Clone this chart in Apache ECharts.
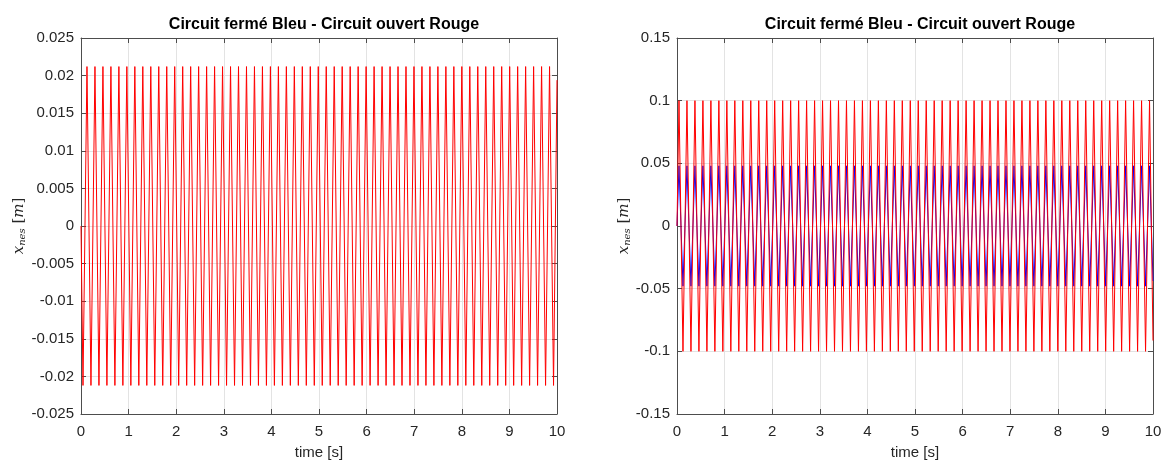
<!DOCTYPE html>
<html>
<head>
<meta charset="utf-8">
<script src="https://cdn.jsdelivr.net/npm/echarts@6/dist/echarts.min.js"></script>
<style>
html,body{margin:0;padding:0;background:#fff;}
#chart{width:1163px;height:462px;}
</style>
</head>
<body>
<div id="chart"></div>
<script>
// Titles and labels
const plotTitle = 'Circuit fermé Bleu - Circuit ouvert Rouge';
const xAxisName = 'time [s]';

const extremaTimes = [0,
  0.0419,0.1257,0.2094,0.2932,0.3770,0.4608,0.5445,0.6283,0.7121,0.7959,
  0.8796,0.9634,1.0472,1.1310,1.2147,1.2985,1.3823,1.4661,1.5499,1.6336,
  1.7174,1.8012,1.8850,1.9687,2.0525,2.1363,2.2201,2.3038,2.3876,2.4714,
  2.5552,2.6389,2.7227,2.8065,2.8903,2.9740,3.0578,3.1416,3.2254,3.3091,
  3.3929,3.4767,3.5605,3.6442,3.7280,3.8118,3.8956,3.9794,4.0631,4.1469,
  4.2307,4.3145,4.3982,4.4820,4.5658,4.6496,4.7333,4.8171,4.9009,4.9847,
  5.0684,5.1522,5.2360,5.3198,5.4035,5.4873,5.5711,5.6549,5.7386,5.8224,
  5.9062,5.9900,6.0737,6.1575,6.2413,6.3251,6.4089,6.4926,6.5764,6.6602,
  6.7440,6.8277,6.9115,6.9953,7.0791,7.1628,7.2466,7.3304,7.4142,7.4979,
  7.5817,7.6655,7.7493,7.8330,7.9168,8.0006,8.0844,8.1681,8.2519,8.3357,
  8.4195,8.5032,8.5870,8.6708,8.7546,8.8383,8.9221,9.0059,9.0897,9.1735,
  9.2572,9.3410,9.4248,9.5086,9.5923,9.6761,9.7599,9.8437,9.9274,
  10];

// Left panel: open circuit (red), x_nes [m]
const leftRed = [0,
  -0.0212,0.0212,-0.0212,0.0212,-0.0212,0.0212,-0.0212,0.0212,-0.0212,0.0212,
  -0.0212,0.0212,-0.0212,0.0212,-0.0212,0.0212,-0.0212,0.0212,-0.0212,0.0212,
  -0.0212,0.0212,-0.0212,0.0212,-0.0212,0.0212,-0.0212,0.0212,-0.0212,0.0212,
  -0.0212,0.0212,-0.0212,0.0212,-0.0212,0.0212,-0.0212,0.0212,-0.0212,0.0212,
  -0.0212,0.0212,-0.0212,0.0212,-0.0212,0.0212,-0.0212,0.0212,-0.0212,0.0212,
  -0.0212,0.0212,-0.0212,0.0212,-0.0212,0.0212,-0.0212,0.0212,-0.0212,0.0212,
  -0.0212,0.0212,-0.0212,0.0212,-0.0212,0.0212,-0.0212,0.0212,-0.0212,0.0212,
  -0.0212,0.0212,-0.0212,0.0212,-0.0212,0.0212,-0.0212,0.0212,-0.0212,0.0212,
  -0.0212,0.0212,-0.0212,0.0212,-0.0212,0.0212,-0.0212,0.0212,-0.0212,0.0212,
  -0.0212,0.0212,-0.0212,0.0212,-0.0212,0.0212,-0.0212,0.0212,-0.0212,0.0212,
  -0.0212,0.0212,-0.0212,0.0212,-0.0212,0.0212,-0.0212,0.0212,-0.0212,0.0212,
  -0.0212,0.0212,-0.0212,0.0212,-0.0212,0.0212,-0.0212,0.0212,-0.0212,
  0.0194];

// Right panel: open circuit (red)
const rightRed = [0,
  0.1,-0.1,0.1,-0.1,0.1,-0.1,0.1,-0.1,0.1,-0.1,
  0.1,-0.1,0.1,-0.1,0.1,-0.1,0.1,-0.1,0.1,-0.1,
  0.1,-0.1,0.1,-0.1,0.1,-0.1,0.1,-0.1,0.1,-0.1,
  0.1,-0.1,0.1,-0.1,0.1,-0.1,0.1,-0.1,0.1,-0.1,
  0.1,-0.1,0.1,-0.1,0.1,-0.1,0.1,-0.1,0.1,-0.1,
  0.1,-0.1,0.1,-0.1,0.1,-0.1,0.1,-0.1,0.1,-0.1,
  0.1,-0.1,0.1,-0.1,0.1,-0.1,0.1,-0.1,0.1,-0.1,
  0.1,-0.1,0.1,-0.1,0.1,-0.1,0.1,-0.1,0.1,-0.1,
  0.1,-0.1,0.1,-0.1,0.1,-0.1,0.1,-0.1,0.1,-0.1,
  0.1,-0.1,0.1,-0.1,0.1,-0.1,0.1,-0.1,0.1,-0.1,
  0.1,-0.1,0.1,-0.1,0.1,-0.1,0.1,-0.1,0.1,-0.1,
  0.1,-0.1,0.1,-0.1,0.1,-0.1,0.1,-0.1,0.1,
  -0.0914];

// Right panel: closed circuit (blue)
const rightBlue = [0,
  0.048,-0.048,0.048,-0.048,0.048,-0.048,0.048,-0.048,0.048,-0.048,
  0.048,-0.048,0.048,-0.048,0.048,-0.048,0.048,-0.048,0.048,-0.048,
  0.048,-0.048,0.048,-0.048,0.048,-0.048,0.048,-0.048,0.048,-0.048,
  0.048,-0.048,0.048,-0.048,0.048,-0.048,0.048,-0.048,0.048,-0.048,
  0.048,-0.048,0.048,-0.048,0.048,-0.048,0.048,-0.048,0.048,-0.048,
  0.048,-0.048,0.048,-0.048,0.048,-0.048,0.048,-0.048,0.048,-0.048,
  0.048,-0.048,0.048,-0.048,0.048,-0.048,0.048,-0.048,0.048,-0.048,
  0.048,-0.048,0.048,-0.048,0.048,-0.048,0.048,-0.048,0.048,-0.048,
  0.048,-0.048,0.048,-0.048,0.048,-0.048,0.048,-0.048,0.048,-0.048,
  0.048,-0.048,0.048,-0.048,0.048,-0.048,0.048,-0.048,0.048,-0.048,
  0.048,-0.048,0.048,-0.048,0.048,-0.048,0.048,-0.048,0.048,-0.048,
  0.048,-0.048,0.048,-0.048,0.048,-0.048,0.048,-0.048,0.048,
  -0.0439];

// Axis ranges
const xRange = {min: 0, max: 10, interval: 1};
const leftYRange = {min: -0.025, max: 0.025, interval: 0.005};
const rightYRange = {min: -0.15, max: 0.15, interval: 0.05};

const pairs = (ys) => extremaTimes.map((t, i) => [t, ys[i]]);

const FONT = '"Liberation Sans", Arial, Helvetica, sans-serif';
const AX = '#4d4d4d';
const TXT = '#262626';
const GRIDC = '#e3e3e3';

const yName = '{x|x}{s|nes}{b| [}{m|m}{b|]}';
const yRich = {
  x: {fontFamily: '"DejaVu Serif", serif', fontStyle: 'italic', fontSize: 15, color: TXT},
  s: {fontFamily: '"DejaVu Serif", serif', fontStyle: 'italic', fontSize: 10, color: TXT, padding: [6, 0, 0, 0]},
  b: {fontFamily: '"DejaVu Serif", serif', fontSize: 15, color: TXT},
  m: {fontFamily: '"DejaVu Serif", serif', fontStyle: 'italic', fontSize: 15, color: TXT}
};

function xAxes(gi) {
  return [{
    type: 'value', gridIndex: gi, position: 'bottom', ...xRange,
    name: xAxisName, nameLocation: 'middle', nameGap: 31,
    nameTextStyle: {fontFamily: FONT, fontSize: 15, color: TXT},
    axisLine: {show: true, onZero: false, lineStyle: {color: AX, width: 1}},
    axisTick: {show: true, inside: true, length: 5, lineStyle: {color: AX}},
    axisLabel: {fontFamily: FONT, fontSize: 15, color: TXT, margin: 10},
    splitLine: {show: true, lineStyle: {color: GRIDC, width: 1}}
  }, {
    type: 'value', gridIndex: gi, position: 'top', ...xRange,
    axisLine: {show: true, onZero: false, lineStyle: {color: AX, width: 1}},
    axisTick: {show: true, inside: true, length: 5, lineStyle: {color: AX}},
    axisLabel: {show: false}, splitLine: {show: false}
  }];
}
function yAxes(gi, range, gap) {
  return [{
    type: 'value', gridIndex: gi, position: 'left', ...range,
    name: yName, nameLocation: 'middle', nameGap: gap, nameRotate: 90,
    nameTextStyle: {rich: yRich},
    axisLine: {show: true, onZero: false, lineStyle: {color: AX, width: 1}},
    axisTick: {show: true, inside: true, length: 5, lineStyle: {color: AX}},
    axisLabel: {fontFamily: FONT, fontSize: 15, color: TXT, margin: 7},
    splitLine: {show: true, lineStyle: {color: GRIDC, width: 1}}
  }, {
    type: 'value', gridIndex: gi, position: 'right', ...range,
    axisLine: {show: true, onZero: false, lineStyle: {color: AX, width: 1}},
    axisTick: {show: true, inside: true, length: 5, lineStyle: {color: AX}},
    axisLabel: {show: false}, splitLine: {show: false}
  }];
}

const chart = echarts.init(document.getElementById('chart'), null, {renderer: 'canvas'});
chart.setOption({
  animation: false,
  backgroundColor: '#ffffff',
  title: [
    {text: plotTitle, left: 319, top: 12, textAlign: 'center',
     textStyle: {fontFamily: FONT, fontWeight: 'bold', fontSize: 16, color: '#000'}},
    {text: plotTitle, left: 915, top: 12, textAlign: 'center',
     textStyle: {fontFamily: FONT, fontWeight: 'bold', fontSize: 16, color: '#000'}}
  ],
  grid: [
    {left: 81, right: 606, top: 38, bottom: 48, containLabel: false, outerBoundsMode: 'none'},
    {left: 677, right: 10, top: 38, bottom: 48, containLabel: false, outerBoundsMode: 'none'}
  ],
  xAxis: [...xAxes(0), ...xAxes(1)],
  yAxis: [...yAxes(0, leftYRange, 49), ...yAxes(1, rightYRange, 41)],
  series: [
    {type: 'line', xAxisIndex: 0, yAxisIndex: 0, data: pairs(leftRed), showSymbol: false,
     lineStyle: {color: '#ff0000', width: 1}, silent: true},
    {type: 'line', xAxisIndex: 2, yAxisIndex: 2, data: pairs(rightBlue), showSymbol: false,
     lineStyle: {color: '#0000ff', width: 1}, silent: true},
    {type: 'line', xAxisIndex: 2, yAxisIndex: 2, data: pairs(rightRed), showSymbol: false,
     lineStyle: {color: '#ff0000', width: 1}, silent: true}
  ]
});
</script>
</body>
</html>
